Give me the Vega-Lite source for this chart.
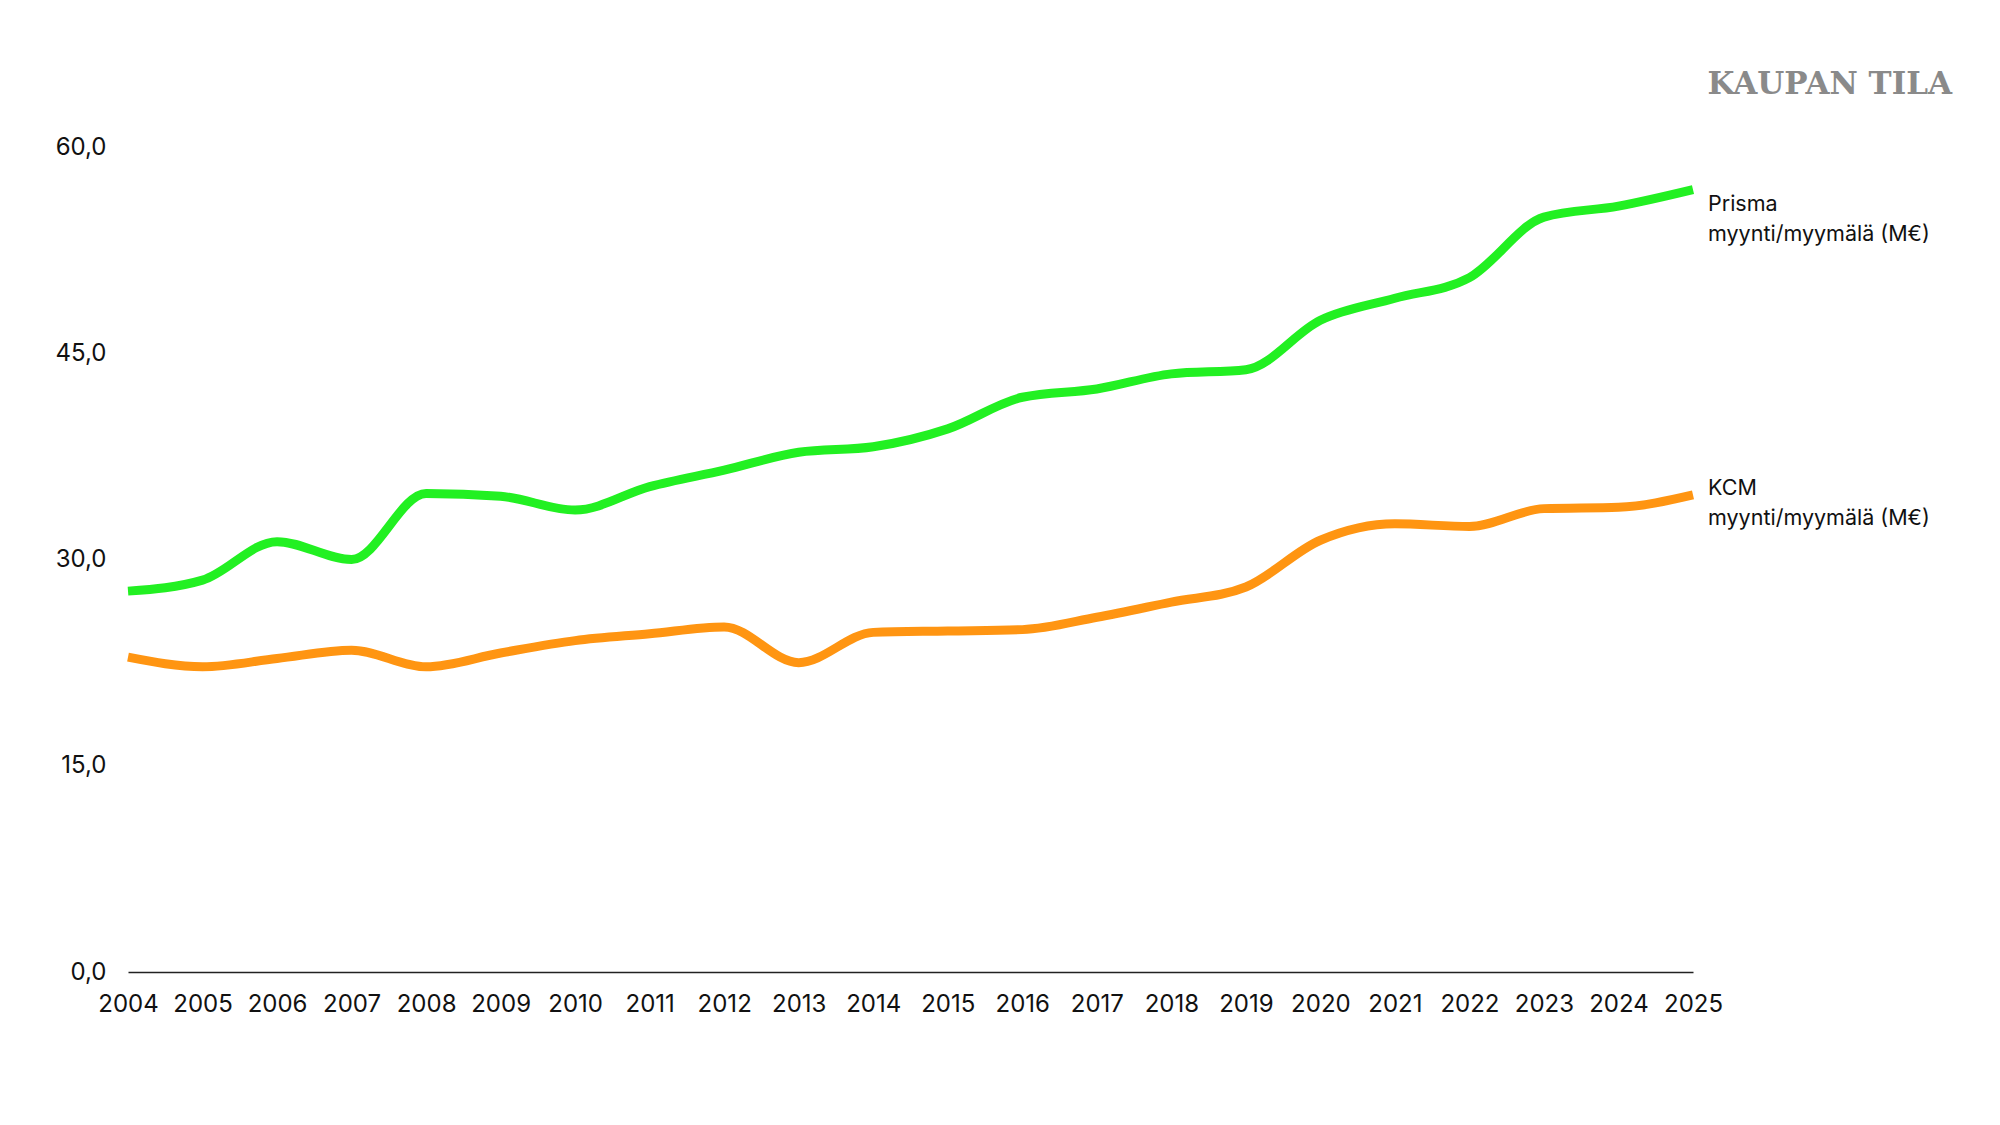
{
  "$schema": "https://vega.github.io/schema/vega-lite/v6.json",
  "autosize": {"type": "none"},
  "width": 1565,
  "height": 825,
  "padding": {"left": 128, "top": 147, "right": 307, "bottom": 153},
  "background": "white",
  "title": {
    "text": "KAUPAN TILA",
    "anchor": "end",
    "frame": "group",
    "dx": 259,
    "offset": 10,
    "fontSize": 31,
    "font": "DejaVu Serif",
    "fontWeight": 900,
    "color": "#8a8a8a",
    "baseline": "alphabetic"
  },
  "config": {
    "view": {"stroke": null},
    "font": "Inter"
  },
  "data": {
    "values": [
      {"year": "2004", "series": "Prisma", "value": 27.7},
      {"year": "2005", "series": "Prisma", "value": 28.5},
      {"year": "2006", "series": "Prisma", "value": 31.3},
      {"year": "2007", "series": "Prisma", "value": 30.0},
      {"year": "2008", "series": "Prisma", "value": 34.8},
      {"year": "2009", "series": "Prisma", "value": 34.6},
      {"year": "2010", "series": "Prisma", "value": 33.6},
      {"year": "2011", "series": "Prisma", "value": 35.3},
      {"year": "2012", "series": "Prisma", "value": 36.5},
      {"year": "2013", "series": "Prisma", "value": 37.8},
      {"year": "2014", "series": "Prisma", "value": 38.2},
      {"year": "2015", "series": "Prisma", "value": 39.5},
      {"year": "2016", "series": "Prisma", "value": 41.8},
      {"year": "2017", "series": "Prisma", "value": 42.4},
      {"year": "2018", "series": "Prisma", "value": 43.5},
      {"year": "2019", "series": "Prisma", "value": 43.8},
      {"year": "2020", "series": "Prisma", "value": 47.4},
      {"year": "2021", "series": "Prisma", "value": 49.0},
      {"year": "2022", "series": "Prisma", "value": 50.5},
      {"year": "2023", "series": "Prisma", "value": 54.9},
      {"year": "2024", "series": "Prisma", "value": 55.7},
      {"year": "2025", "series": "Prisma", "value": 56.9},
      {"year": "2004", "series": "KCM", "value": 22.9},
      {"year": "2005", "series": "KCM", "value": 22.2},
      {"year": "2006", "series": "KCM", "value": 22.8},
      {"year": "2007", "series": "KCM", "value": 23.4},
      {"year": "2008", "series": "KCM", "value": 22.2},
      {"year": "2009", "series": "KCM", "value": 23.2},
      {"year": "2010", "series": "KCM", "value": 24.1},
      {"year": "2011", "series": "KCM", "value": 24.6},
      {"year": "2012", "series": "KCM", "value": 25.1},
      {"year": "2013", "series": "KCM", "value": 22.5},
      {"year": "2014", "series": "KCM", "value": 24.7},
      {"year": "2015", "series": "KCM", "value": 24.8},
      {"year": "2016", "series": "KCM", "value": 24.9},
      {"year": "2017", "series": "KCM", "value": 25.8},
      {"year": "2018", "series": "KCM", "value": 26.9},
      {"year": "2019", "series": "KCM", "value": 28.0},
      {"year": "2020", "series": "KCM", "value": 31.4},
      {"year": "2021", "series": "KCM", "value": 32.6},
      {"year": "2022", "series": "KCM", "value": 32.4},
      {"year": "2023", "series": "KCM", "value": 33.7},
      {"year": "2024", "series": "KCM", "value": 33.8},
      {"year": "2025", "series": "KCM", "value": 34.7}
    ]
  },
  "encoding": {
    "x": {
      "field": "year",
      "type": "ordinal",
      "scale": {"type": "point", "padding": 0},
      "axis": {
        "title": null,
        "labelAngle": 0,
        "ticks": false,
        "domainColor": "#222222",
        "domainWidth": 1.5,
        "labelFontSize": 24,
        "labelColor": "#111111",
        "labelPadding": 20,
        "grid": false
      }
    },
    "y": {
      "field": "value",
      "type": "quantitative",
      "scale": {"domain": [0, 60], "nice": false},
      "axis": {
        "title": null,
        "values": [0, 15, 30, 45, 60],
        "labelExpr": "replace(format(datum.value, '.1f'), '.', ',')",
        "domain": false,
        "ticks": false,
        "grid": false,
        "labelFontSize": 24,
        "labelColor": "#111111",
        "labelPadding": 22
      }
    }
  },
  "layer": [
    {
      "mark": {"type": "line", "interpolate": "monotone", "strokeWidth": 9, "strokeCap": "butt"},
      "encoding": {
        "color": {
          "field": "series",
          "type": "nominal",
          "scale": {"domain": ["Prisma", "KCM"], "range": ["#22f022", "#ff9512"]},
          "legend": null
        }
      }
    },
    {
      "transform": [{"filter": "datum.series == 'Prisma' && datum.year == '2025'"}],
      "mark": {
        "type": "text",
        "text": ["Prisma", "myynti/myymälä (M€)"],
        "align": "left",
        "baseline": "top",
        "dx": 15,
        "dy": 4,
        "fontSize": 21.5,
        "lineHeight": 30,
        "color": "#111111"
      }
    },
    {
      "transform": [{"filter": "datum.series == 'KCM' && datum.year == '2025'"}],
      "mark": {
        "type": "text",
        "text": ["KCM", "myynti/myymälä (M€)"],
        "align": "left",
        "baseline": "top",
        "dx": 15,
        "dy": -17,
        "fontSize": 21.5,
        "lineHeight": 30,
        "color": "#111111"
      }
    }
  ]
}
